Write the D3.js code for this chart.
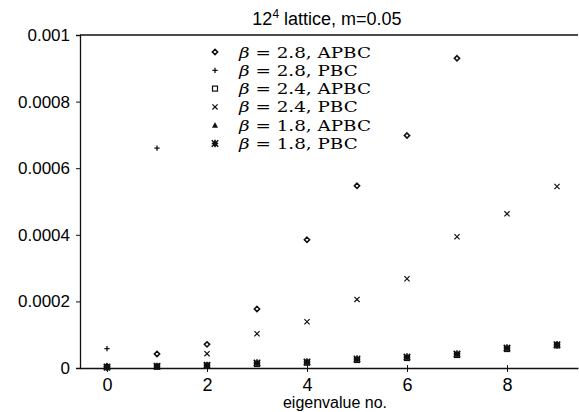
<!DOCTYPE html>
<html>
<head>
<meta charset="utf-8">
<script src="https://cdn.jsdelivr.net/npm/d3@7"></script>
<style>
  body { margin: 0; background: #fff; }
  svg { display: block; }
  .tick text { font-family: "Liberation Sans", Arial, sans-serif; }
</style>
</head>
<body>
<script>
// eigenvalue index 0..9
var eigIdx = [0, 1, 2, 3, 4, 5, 6, 7, 8, 9];
var b28apbc = [0.000005, 0.000042, 0.000071, 0.000177, 0.000385, 0.000547, 0.000698, 0.00093];
var b28pbc = [0.000058, 0.00066];
var b24apbc = [0.000002, 0.000004, 0.000007, 0.000012, 0.000016, 0.000024, 0.00003, 0.000039, 0.000057, 0.000068];
var b24pbc = [0.000004, 0.000006, 0.000043, 0.000103, 0.000139, 0.000206, 0.000268, 0.000394, 0.000463, 0.000545];
var b18apbc = [0.000003, 0.000005, 0.000008, 0.000015, 0.000018, 0.000027, 0.000033, 0.000042, 0.00006, 0.00007];
var b18pbc = [0.000003, 0.000005, 0.000008, 0.000015, 0.000018, 0.000027, 0.000033, 0.000042, 0.00006, 0.00007];
var yTicks = [0, 0.0002, 0.0004, 0.0006, 0.0008, 0.001];
var xTicks = [0, 2, 4, 6, 8];

var series = [
  {beta: "2.8", bc: "APBC", shape: "diamond", vals: b28apbc},
  {beta: "2.8", bc: "PBC", shape: "plus", vals: b28pbc},
  {beta: "2.4", bc: "APBC", shape: "square", vals: b24apbc},
  {beta: "2.4", bc: "PBC", shape: "cross", vals: b24pbc},
  {beta: "1.8", bc: "APBC", shape: "triangle", vals: b18apbc},
  {beta: "1.8", bc: "PBC", shape: "star", vals: b18pbc}
];

var W = 579, H = 412;
var svg = d3.select("body").append("svg").attr("width", W).attr("height", H);

var x = d3.scaleLinear().domain([-0.54, 9.42]).range([80, 578]);
var y = d3.scaleLinear().domain([0, 0.001]).range([368, 35]);

// frame: top + left
svg.append("line").attr("x1", 80).attr("x2", 578).attr("y1", y(0.001)).attr("y2", y(0.001))
  .attr("stroke", "#111").attr("stroke-width", 1.3);

var yAxis = d3.axisLeft(y).tickValues(yTicks).tickSize(4).tickPadding(6)
  .tickFormat(function(d){ return d === 0 ? "0" : String(+d.toFixed(4)); });
svg.append("g").attr("transform", "translate(80,0)").call(yAxis)
  .call(function(g){
    g.select(".domain").attr("stroke", "#111").attr("stroke-width", 1.3);
    g.selectAll(".tick line").attr("stroke", "#111");
    g.selectAll(".tick text").attr("font-size", 17).attr("fill", "#000");
  });

var xAxis = d3.axisBottom(x).tickValues(xTicks).tickSize(4).tickPadding(6).tickSizeOuter(0);
svg.append("g").attr("transform", "translate(0," + y(0) + ")").call(xAxis)
  .call(function(g){
    g.select(".domain").attr("stroke", "#111").attr("stroke-width", 1.3);
    g.selectAll(".tick line").attr("stroke", "#111").attr("y1", -3);
    g.selectAll(".tick text").attr("font-size", 18).attr("fill", "#000");
  });

// title and axis label
svg.append("text").attr("x", 327).attr("y", 25).attr("text-anchor", "middle")
  .attr("font-family", "Liberation Sans, Arial, sans-serif").attr("font-size", 18)
  .call(function(t){
    t.append("tspan").text("12");
    t.append("tspan").attr("dy", -7).attr("font-size", 12).text("4");
    t.append("tspan").attr("dy", 7).text(" lattice, m=0.05");
  });
svg.append("text").attr("x", 335).attr("y", 408).attr("text-anchor", "middle")
  .attr("font-family", "Liberation Sans, Arial, sans-serif").attr("font-size", 16)
  .text("eigenvalue no.");

function marker(g, shape) {
  var r = 2.6;
  if (shape === "diamond") {
    g.append("path").attr("d", "M0," + (-r) + "L" + r + ",0L0," + r + "L" + (-r) + ",0Z")
      .attr("fill", "#fff").attr("stroke", "#111").attr("stroke-width", 1.6);
  } else if (shape === "plus") {
    g.append("path").attr("d", "M" + (-r) + ",0H" + r + "M0," + (-r) + "V" + r)
      .attr("stroke", "#111").attr("stroke-width", 1.3);
  } else if (shape === "square") {
    g.append("rect").attr("x", -2.5).attr("y", -2.5).attr("width", 5).attr("height", 5)
      .attr("fill", "#fff").attr("stroke", "#111").attr("stroke-width", 1.2);
  } else if (shape === "cross") {
    g.append("path").attr("d", "M" + (-r) + "," + (-r) + "L" + r + "," + r + "M" + r + "," + (-r) + "L" + (-r) + "," + r)
      .attr("stroke", "#111").attr("stroke-width", 1.2);
  } else if (shape === "triangle") {
    g.append("path").attr("d", "M0," + (-r - 0.5) + "L" + (r + 0.4) + "," + r + "L" + (-r - 0.4) + "," + r + "Z")
      .attr("fill", "#111");
  } else if (shape === "star") {
    var s = r + 0.6;
    g.append("path").attr("d", "M" + (-s) + "," + (-s) + "L" + s + "," + s + "M" + s + "," + (-s) + "L" + (-s) + "," + s +
      "M" + (-s) + ",0H" + s + "M0," + (-s - 0.5) + "V" + (s + 0.5))
      .attr("stroke", "#111").attr("stroke-width", 1.6);
  }
}

// data points
series.forEach(function(s){
  s.vals.forEach(function(v, i){
    var g = svg.append("g").attr("transform", "translate(" + x(eigIdx[i]) + "," + y(v) + ")");
    marker(g, s.shape);
  });
});

// legend
var leg = svg.append("g");
var legTexts = [];
series.forEach(function(s, i){
  var cy = 52 + i * 18.3;
  var g = leg.append("g").attr("transform", "translate(215," + cy + ")");
  marker(g, s.shape);
  var t = leg.append("text").attr("x", 239).attr("y", cy + 5.5)
    .attr("font-family", "'DejaVu Serif', 'Liberation Serif', serif").attr("font-size", 15.5);
  t.append("tspan").attr("font-style", "italic").text("β");
  t.append("tspan").text(" = " + s.beta + ", " + s.bc);
  legTexts.push(t);
});
// stretch to the width of the reference lettering (APBC rows ~132px)
var k = 132 / legTexts[0].node().getComputedTextLength();
legTexts.forEach(function(t){
  var len = t.node().getComputedTextLength();
  t.attr("textLength", len * k).attr("lengthAdjust", "spacingAndGlyphs");
});
</script>
</body>
</html>
